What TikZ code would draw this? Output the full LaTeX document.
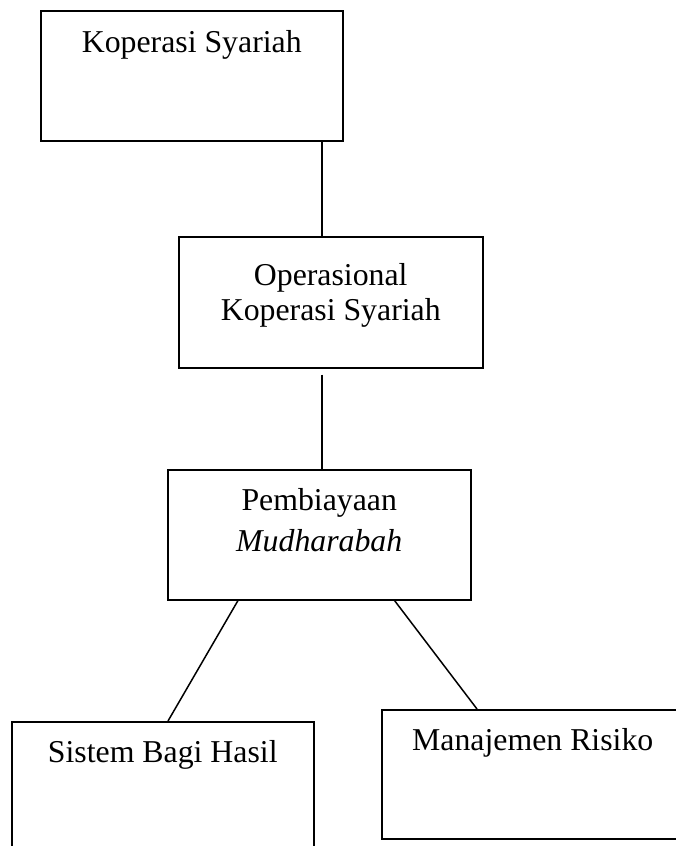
\documentclass[tikz,border=0pt]{standalone}
\usepackage{fontspec}
\setmainfont{Liberation Serif}
\usepackage{tikz}

\tikzset{
  box/.style={draw,line width=1.5pt,rectangle,anchor=north west,inner sep=0pt},
  txt/.style={anchor=north,align=center,inner sep=0pt,font=\fontsize{31.8}{35}\selectfont}
}

\begin{document}
\begin{tikzpicture}[x=1pt,y=-1pt]
        \useasboundingbox (0,0) rectangle (676,846);
        % boxes
        \node[box,minimum width=302pt,minimum height=130pt] (kop) at (40,10) {};
        \node[box,minimum width=304pt,minimum height=131pt] (ops) at (178,236) {};
        \node[box,minimum width=303pt,minimum height=130pt] (pem) at (167,469) {};
        \node[box,minimum width=302pt,minimum height=150pt] (sis) at (11,721) {};
        \node[box,minimum width=302pt,minimum height=129pt] (man) at (381,709) {};
        % labels
        \node[txt] (kopt) at ([yshift=-20pt]kop.north) {Koperasi Syariah};
        \node[txt] (opst) at ([yshift=-27pt]ops.north) {Operasional\\Koperasi Syariah};
        \node[txt] (pemt) at ([yshift=-19pt]pem.north) {Pembiayaan\\[6pt]\textit{Mudharabah}};
        \node[txt] (sist) at ([yshift=-19pt]sis.north) {Sistem Bagi Hasil};
        \node[txt] (mant) at ([yshift=-19pt]man.north) {Manajemen Risiko};
        % lines
        \draw[line width=1.5pt] ([xshift=130pt]kop.south) -- ([xshift=-9pt]ops.north);
        \draw[line width=1.5pt] ([xshift=-9pt,yshift=-6pt]ops.south) -- ([xshift=2.5pt]pem.north);
        \draw[line width=1.5pt] ([xshift=71pt]pem.south west) -- ([xshift=157pt]sis.north west);
        \draw[line width=1.5pt] ([xshift=-77pt]pem.south east) -- ([xshift=96pt]man.north west);
\end{tikzpicture}
\end{document}
